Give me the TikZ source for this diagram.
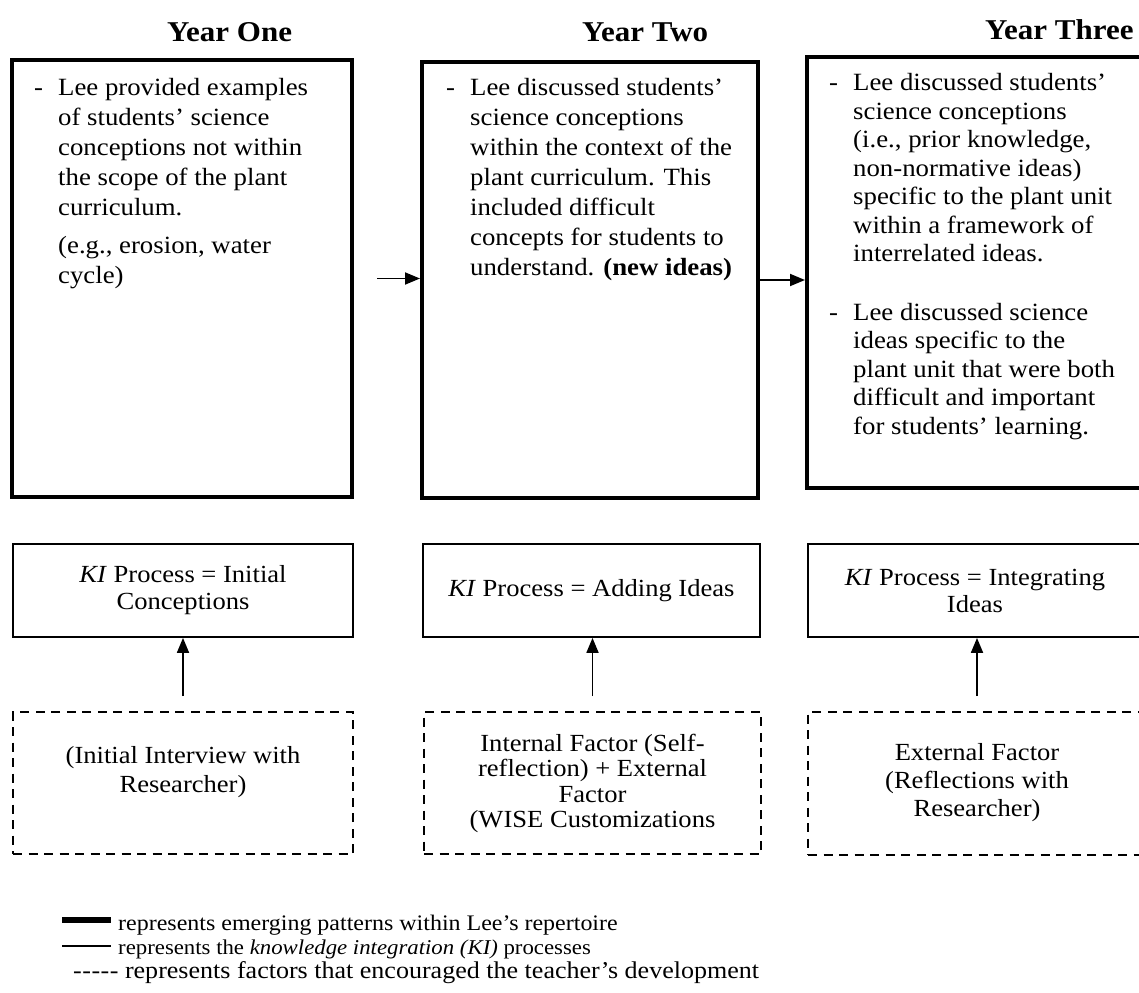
\documentclass[tikz,border=0pt]{standalone}
\usepackage{fontspec}
\setmainfont{Liberation Serif}[FakeStretch=1.08]
\usetikzlibrary{arrows.meta,fit}

% type sizes used in the figure
\newcommand\titlesize{\fontsize{28.7}{34}\selectfont\bfseries}
\newcommand\bodysize{\fontsize{24.8}{30}\selectfont}
\newcommand\bodysizeb{\fontsize{24.8}{28.5}\selectfont}
\newcommand\kisize{\fontsize{24.6}{27}\selectfont}
% bullet dash hanging to the left of a paragraph
\newcommand\dashitem{\leavevmode\llap{\makebox[24pt][l]{-}}}
% a hyphen that never joins its neighbours into a dash ligature
\newcommand\hy{\hbox{-}}

\begin{document}
\begin{tikzpicture}[x=1pt,y=-1pt,
  yearbox/.style={draw, line width=4pt, inner sep=0pt},
  kibox/.style={draw, line width=1.8pt, inner sep=0pt},
  factorbox/.style={draw, line width=1.8pt, inner sep=0pt, dash pattern=on 9pt off 6.5pt},
  arr/.style={line width=1.8pt, -{Triangle[length=15pt,width=12pt]}},
  heading/.style={inner sep=0pt, anchor=base west, font=\titlesize},
  lefttext/.style={inner sep=0pt, anchor=base west},
  midtext/.style={inner sep=0pt, anchor=base},
  kitext/.style={inner sep=0pt, align=center, font=\kisize},
  keytext/.style={inner sep=0pt, anchor=base west}
]
\fill[white] (0,0) rectangle (1139,992);
\useasboundingbox (0,0) rectangle (1139,992);

% column headings
\node[heading] (h1) at (167,42) {Year One};
\node[heading] (h2) at (582,42) {Year Two};
\node[heading] (h3) at (985,40) {Year Three};

% yearly patterns (thick frames)
\node[yearbox, fit={(12,60)(352,497)}] (y1) {};
\node[yearbox, fit={(422,62)(758,498)}] (y2) {};
\node[yearbox, fit={(807,57)(1146,488)}] (y3) {};

\node[lefttext] (y1t) at (58,96) {\parbox[t]{290pt}{\bodysize\raggedright
  \dashitem Lee provided examples\\ of students’ science\\ conceptions not within\\
  the scope of the plant\\ curriculum.\par\vspace{8pt}
  (e.g., erosion, water\\ cycle)}};

\node[lefttext] (y2t) at (470,96) {\parbox[t]{285pt}{\bodysize\raggedright
  \dashitem Lee discussed students’\\ science conceptions\\ within the context of the\\
  plant curriculum. This\\ included difficult\\ concepts for students to\\
  understand. \textbf{(new ideas)}}};

\node[lefttext] (y3t) at (853,91) {\parbox[t]{285pt}{\bodysizeb\raggedright
  \dashitem Lee discussed students’\\ science conceptions\\ (i.e., prior knowledge,\\
  non-normative ideas)\\ specific to the plant unit\\ within a framework of\\
  interrelated ideas.\par\vspace{30pt}
  \dashitem Lee discussed science\\ ideas specific to the\\ plant unit that were both\\
  difficult and important\\ for students’ learning.}};

% knowledge integration processes (thin frames)
\node[kibox, fit={(13,544)(353,637)}] (k1) {};
\node[kibox, fit={(423,544)(760,637)}] (k2) {};
\node[kibox, fit={(808,544)(1142,637)}] (k3) {};

\node[kitext] (k1t) at (k1.center) {\textit{KI} Process = Initial\\ Conceptions};
\node[kitext] (k2t) at (k2.center) {\textit{KI} Process = Adding Ideas};
\node[kitext] (k3t) at (k3.center) {\textit{KI} Process = Integrating\\ Ideas};

% factors (dashed frames)
\node[factorbox, fit={(13,712)(353,854)}] (f1) {};
\node[factorbox, fit={(424,712)(761,854)}] (f2) {};
\node[factorbox, fit={(808,712)(1146,855)}] (f3) {};

\node[midtext] (f1t) at (f1.center |- 0,763) {\parbox[t]{320pt}{\fontsize{24.6}{29}\selectfont\centering
  (Initial Interview with\\ Researcher)}};
\node[midtext] (f2t) at (f2.center |- 0,751) {\parbox[t]{320pt}{\fontsize{24.6}{25.5}\selectfont\centering
  Internal Factor (Self-\\ reflection) + External\\ Factor\\ (WISE Customizations}};
\node[midtext] (f3t) at (f3.center |- 0,760) {\parbox[t]{320pt}{\fontsize{24.6}{28}\selectfont\centering
  External Factor\\ (Reflections with\\ Researcher)}};

% connectors
\draw[arr, shorten <=23pt] (y1.east) -- (y1.east -| y2.west);
\draw[arr] (y2.east) -- (y2.east -| y3.west);
\draw[arr, shorten <=15pt] (f1.north) -- (f1.north |- k1.south);
\draw[arr, shorten <=15pt] (f2.north) -- (f2.north |- k2.south);
\draw[arr, shorten <=15pt] (f3.north) -- (f3.north |- k3.south);

% key
\coordinate (keyA1) at (62,920);
\coordinate (keyA2) at (111,920);
\coordinate (keyB1) at (62,946);
\coordinate (keyB2) at (111,946);
\draw[line width=6pt] (keyA1) -- (keyA2);
\draw[line width=2pt] (keyB1) -- (keyB2);
\node[keytext, font=\fontsize{22.2}{24}\selectfont] (key1) at (118,930)
  {represents emerging patterns within Lee’s repertoire};
\node[keytext, font=\fontsize{21.1}{24}\selectfont] (key2) at (118,954)
  {represents the \textit{knowledge integration (KI)} processes};
\node[keytext, font=\fontsize{24.1}{24}\selectfont] (key3) at (73,978)
  {\hy\kern0.5pt\hy\kern0.5pt\hy\kern0.5pt\hy\kern0.5pt\hy\ represents factors that encouraged the teacher’s development};
\end{tikzpicture}
\end{document}
